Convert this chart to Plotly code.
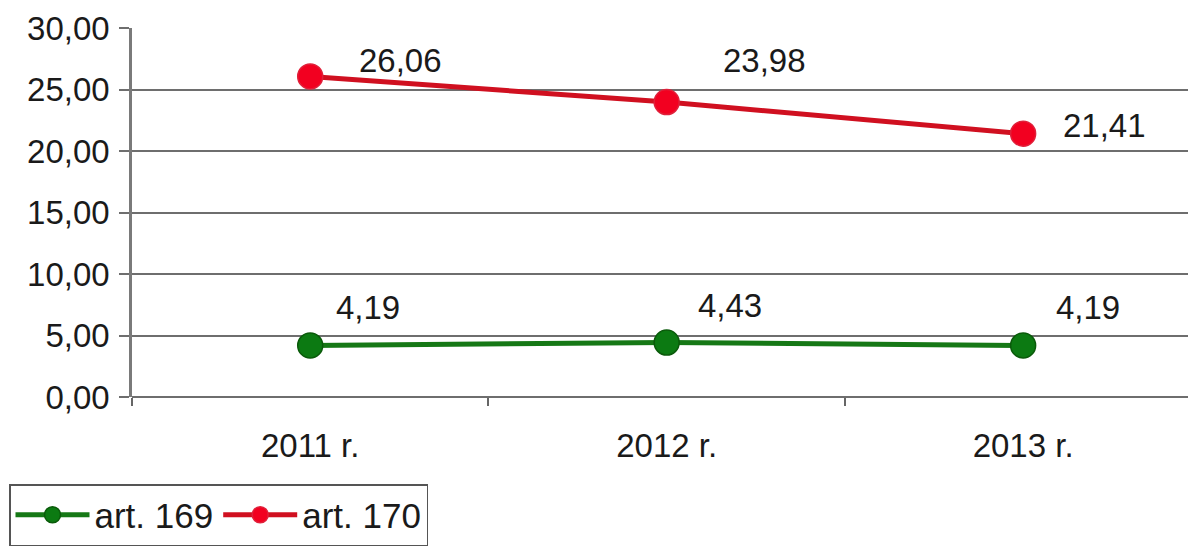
import plotly.graph_objects as go

categories = ["2011 r.", "2012 r.", "2013 r."]
art169 = [4.19, 4.43, 4.19]
art170 = [26.06, 23.98, 21.41]
series_names = ["art. 169", "art. 170"]
y_ticks = [0, 5, 10, 15, 20, 25, 30]

# label offsets (pixels) relative to each point - styling only
off169 = [(58, 38), (63, 37), (65, 38)]
off170 = [(90, 16), (98, 42), (81, 8)]

FONT = "Liberation Sans, Arial, sans-serif"
FS = 33

# the page body adds an 8px margin; size the figure to fill the rest
W, H = 1188, 538

fig = go.Figure()
fig.add_trace(go.Scatter(
    x=categories, y=art169, name=series_names[0], mode="lines+markers",
    line=dict(color="#167816", width=5),
    marker=dict(size=25, color="#0c7a12", line=dict(color="#0a5a0a", width=1.5)),
))
fig.add_trace(go.Scatter(
    x=categories, y=art170, name=series_names[1], mode="lines+markers",
    line=dict(color="#d01020", width=5),
    marker=dict(size=25, color="#f20020", line=dict(color="#e0203a", width=1.5)),
))

def fmt(v):
    return f"{v:.2f}".replace(".", ",")

for vals, offs in ((art169, off169), (art170, off170)):
    for c, v, (dx, dy) in zip(categories, vals, offs):
        fig.add_annotation(x=c, y=v, text=fmt(v), showarrow=False,
                           xshift=dx, yshift=dy,
                           font=dict(family=FONT, size=FS, color="#1a1a1a"))

fig.update_layout(
    width=W, height=H,
    margin=dict(l=124, r=0, t=20, b=149, autoexpand=False),
    paper_bgcolor="white", plot_bgcolor="white",
    separators=",.",
    font=dict(family=FONT, size=FS, color="#1a1a1a"),
    showlegend=True,
    legend=dict(
        orientation="h", xref="container", yref="container",
        x=1 / W, y=1 - 476 / H, xanchor="left", yanchor="top",
        bordercolor="#555555", borderwidth=1.5, bgcolor="white",
        font=dict(family=FONT, size=35, color="#1a1a1a"),
        itemwidth=74, tracegroupgap=0,
    ),
)
fig.update_xaxes(
    type="category", range=[-0.5, 2.485], automargin=False,
    showgrid=False, showline=False, zeroline=False,
    ticks="outside", tickson="boundaries", ticklen=8, tickwidth=1.5,
    tickcolor="#666666", ticklabelstandoff=26,
    tickfont=dict(family=FONT, size=FS, color="#1a1a1a"),
)
fig.update_yaxes(
    range=[0, 30], tickvals=y_ticks, tickformat=".2f", automargin=False,
    showgrid=True, gridcolor="#6e6e6e", gridwidth=1.5,
    zeroline=True, zerolinecolor="#6e6e6e", zerolinewidth=2,
    showline=True, linecolor="#7a7a7a", linewidth=2.5,
    ticks="outside", ticklen=10, tickwidth=1.5, tickcolor="#6e6e6e",
    ticklabelstandoff=3,
    tickfont=dict(family=FONT, size=FS, color="#1a1a1a"),
)

fig.write_html("out.html")
